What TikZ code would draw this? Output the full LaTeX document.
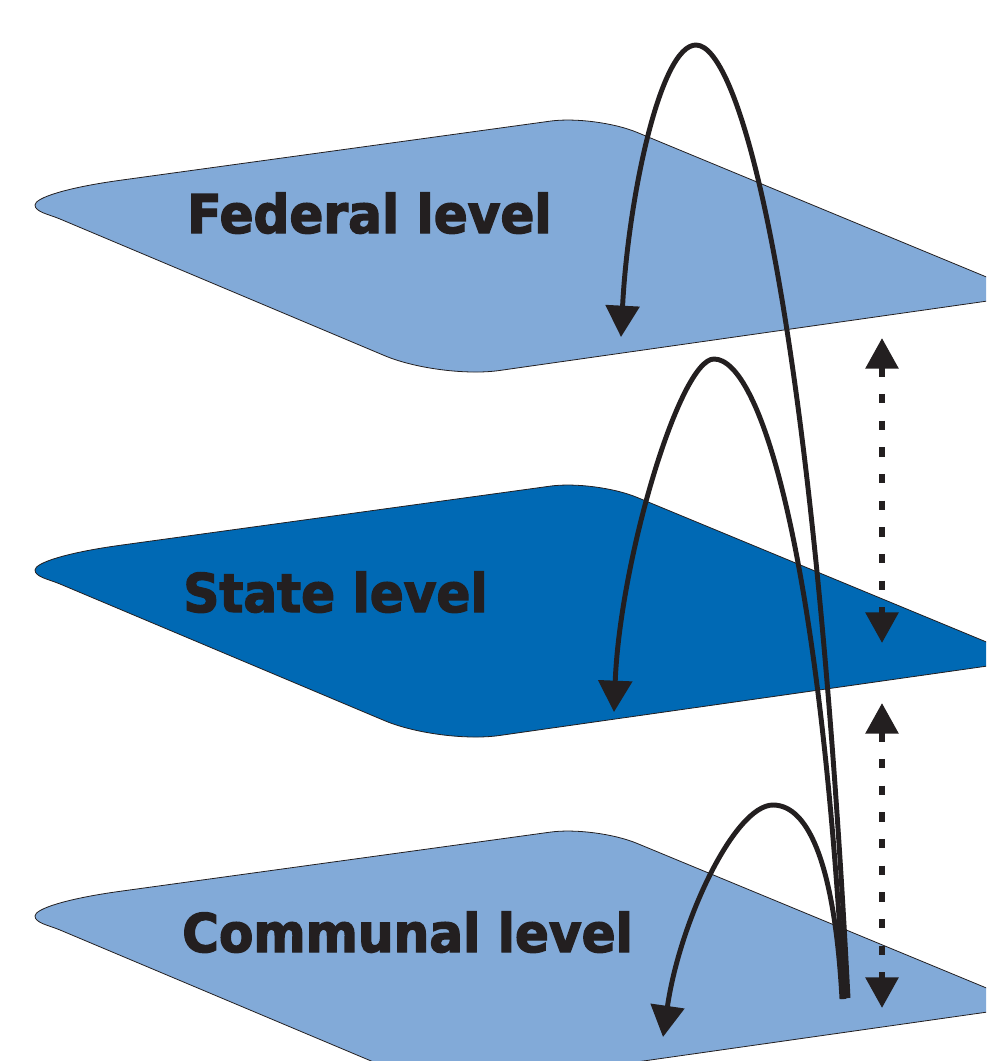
\documentclass[tikz,border=0pt]{standalone}
\usepackage{fontspec}
\usetikzlibrary{arrows.meta}
\newfontfamily\lab{DejaVu Sans}[FakeStretch=0.94,FakeBold=2.5]
\definecolor{fedblue}{HTML}{82AAD8}
\definecolor{stblue}{HTML}{0069B4}
\definecolor{ink}{HTML}{231F20}
\tikzset{
  planeshape/.style={draw=ink, line width=0.6pt},
  levellabel/.style={inner sep=0pt, anchor=base, text=ink, font=\lab\fontsize{40}{48}\selectfont},
  looparrow/.style={draw=ink, line width=3.7pt, -{Triangle[length=23.5pt,width=25pt]}},
  dasharrow/.style={draw=ink, line width=4.5pt, dash pattern=on 7pt off 13pt,
    {Triangle[length=23pt,width=24pt]}-{Triangle[length=23pt,width=24pt]}}
}
\begin{document}
\begin{tikzpicture}[x=0.75pt,y=-0.75pt]
\useasboundingbox (0,0) rectangle (986,1061);
\clip (0,0) rectangle (986,1061);
% planes
\foreach \dy/\col in {0/fedblue,365/stblue,711/fedblue}{
  \filldraw[planeshape, fill=\col, shift={(0,\dy)}]
    (35,205) .. controls (35,198) and (65.5,187.8) .. (120,180.3)
    -- (550.4,121.1) .. controls (575.0,117.7) and (613.6,122.7) .. (636.6,132.2)
    -- (988.4,277.8) .. controls (1012.3,287.3) and (1010.1,297.8) .. (985.5,301.3)
    -- (499.4,370.5) .. controls (466.6,375.2) and (415.3,368.6) .. (384.7,355.7)
    -- (60,219) .. controls (48.9,214.3) and (35,212) .. (35,205) -- cycle;
}
% labels
\node[levellabel] (fed) at (369.5,233) {\bfseries Federal level};
\node[levellabel] (sta) at (335.5,612) {\bfseries State level};
\node[levellabel] (com) at (407.5,952) {\bfseries Communal level};
% loop end points
\coordinate (fedStart) at (848,998);
\coordinate (fedEnd) at (621,337);
\coordinate (staStart) at (844,999);
\coordinate (staEnd) at (614,712);
\coordinate (comStart) at (842,999);
\coordinate (comEnd) at (663,1037);
% loops
\draw[looparrow] (fedStart) .. controls (812,300) and (740,45) .. (696,45)
  .. controls (660,45) and (628,200) .. (fedEnd);
\draw[looparrow] (staStart) .. controls (820,550) and (760,359) .. (714,359)
  .. controls (680,359) and (620,560) .. (staEnd);
\draw[looparrow] (comStart) .. controls (835,870) and (810,805) .. (773,805)
  .. controls (735,805) and (680,920) .. (comEnd);
% dashed double arrows
\coordinate (d1a) at (882,338);
\coordinate (d1b) at (882,643);
\coordinate (d2a) at (882,703);
\coordinate (d2b) at (882,1008);
\draw[dasharrow] (d1a) -- (d1b);
\draw[dasharrow] (d2a) -- (d2b);
\end{tikzpicture}
\end{document}
